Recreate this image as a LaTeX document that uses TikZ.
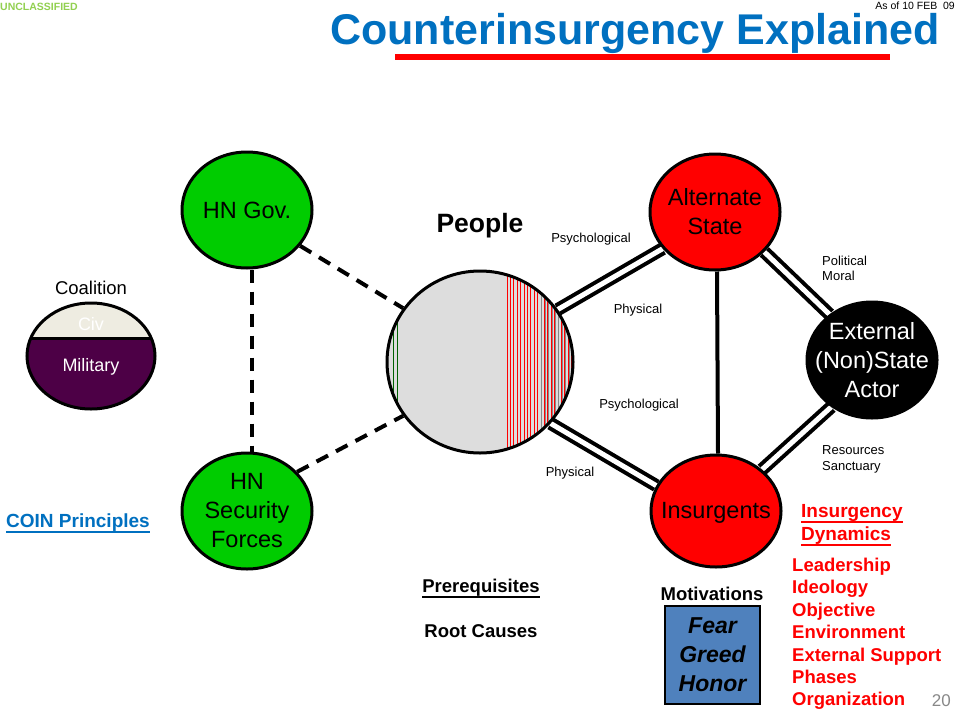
\documentclass[tikz,border=0pt]{standalone}
\usepackage{fontspec}
\setmainfont{Liberation Sans}
\usetikzlibrary{shapes.geometric}
\pgfdeclarelayer{paper}
\pgfdeclarelayer{bg}
\pgfsetlayers{paper,bg,main}

\definecolor{titleblue}{HTML}{0070C0}
\definecolor{hngreen}{HTML}{00CC00}
\definecolor{civcol}{HTML}{EEECE1}
\definecolor{milcol}{HTML}{4D0046}
\definecolor{peoplegray}{HTML}{DDDDDD}
\definecolor{stripegreen}{HTML}{006000}
\definecolor{boxblue}{HTML}{4F81BD}
\definecolor{classgreen}{HTML}{92D050}
\definecolor{pagegray}{HTML}{888888}

\newcommand\fs[2]{\fontsize{#1}{#2}\selectfont}
% underline with a heavier rule at a fixed depth
\newcommand\ulin[1]{\leavevmode\setbox0\hbox{#1}\rlap{\rule[-0.3em]{\wd0}{1.5pt}}\box0}

\begin{document}
\begin{tikzpicture}[x=1pt,y=-1pt,
  actor/.style={ellipse, draw=black, line width=3pt, minimum width=130pt,
    minimum height=116pt, inner sep=0pt},
  lbl/.style={align=center, font=\fs{23.5}{29}, inner sep=0pt},
  small/.style={font=\fs{13}{15}, inner sep=0pt},
  dashline/.style={dash pattern=on 13pt off 9pt, line width=4pt},
  dbl/.style={double=white, double distance=5pt, line width=4pt},
  solidline/.style={line width=4pt},
  boldtxt/.style={font=\bfseries\fs{18.5}{22}, inner sep=0pt},
  dynlist/.style={font=\bfseries\fs{18.5}{22}, text=red, inner sep=0pt, anchor=base west}
]
\useasboundingbox (0,0) rectangle (960,720);
\begin{pgfonlayer}{paper}
  \fill[white] (0,0) rectangle (960,720);
\end{pgfonlayer}

% header
\node[font=\bfseries\fs{10.5}{12}, text=classgreen, inner sep=0pt, anchor=base west] (classif) at (0,10) {UNCLASSIFIED};
\node[font=\fs{10.5}{12}, inner sep=0pt, anchor=base east, text depth=0pt] (datestamp) at (955,9.5) {As of 10 FEB \ 09};
\node[font=\bfseries\fs{43}{46}, text=titleblue, inner sep=0pt, anchor=base,
  text height=30pt, text depth=9pt] (title) at (635,44) {Counterinsurgency Explained};
\fill[red] (395,54) rectangle (890,59.5);

% the people, with the sympathetic fringes
\begin{scope}
  \clip (480,362) ellipse [x radius=93, y radius=91];
  \fill[peoplegray] (380,260) rectangle (580,460);
  \foreach \i in {0,...,19}
    \draw[red, line width=0.9pt] ({507+3.4*\i},260) -- ++(0,210);
  \foreach \i in {0,...,8}
    \draw[pagegray, line width=0.5pt] ({541.7+3.4*\i},260) -- ++(0,210);
  \draw[stripegreen, line width=0.9pt] (393,260) -- (393,470) (397,260) -- (397,470);
\end{scope}
\node[ellipse, draw, line width=3pt, minimum width=186pt, minimum height=182pt, inner sep=0pt] (people) at (480,362) {};
\node[font=\bfseries\fs{26.5}{30}, inner sep=0pt, anchor=base] (peoplelbl) at (480,232) {People};

% actors
\node[actor, fill=hngreen, label={[lbl]center:{HN Gov.}}] (hngov) at (247,210) {};
\node[actor, fill=hngreen, label={[lbl]center:{HN\\Security\\Forces}}] (hnsf) at (247,511) {};
\node[actor, fill=red, label={[lbl]center:{Alternate\\State}}] (alt) at (715,212) {};
\node[actor, fill=red, minimum height=112pt, label={[lbl, yshift=-2pt]center:{Insurgents}}] (ins) at (716,511) {};
\node[actor, fill=black, label={[lbl, text=white]center:{External\\(Non)State\\Actor}}] (ext) at (872,360) {};

% connectors
\begin{pgfonlayer}{bg}
  \draw[dashline] ([xshift=5pt]hngov.south) -- ([xshift=5pt]hnsf.north);
  \draw[dashline] (hngov.-34) -- (people.145);
  \draw[dashline] (hnsf.38) -- (people.215);
  \draw[dbl] (people.34) -- (alt.215);
  \draw[dbl] (people.-41) -- (ins.157);
  \draw[dbl] (alt.-39) -- (ext.133);
  \draw[dbl] (ins.42) -- (ext.229);
  \draw[solidline] ([xshift=2pt]alt.south) -- ([xshift=2pt]ins.north);
\end{pgfonlayer}

% connector labels
\node[small, anchor=base] (l1) at (591,242) {Psychological};
\node[small, anchor=base] (l2) at (638,313) {Physical};
\node[small, anchor=base] (l3) at (639,408) {Psychological};
\node[small, anchor=base] (l4) at (570,476) {Physical};
\node[small, anchor=base west] (l5) at (822,265) {Political};
\node[small, anchor=base west] (l6) at (822,280) {Moral};
\node[small, anchor=base west] (l7) at (822,454) {Resources};
\node[small, anchor=base west] (l8) at (822,470) {Sanctuary};

% coalition
\begin{scope}
  \clip (91,356) ellipse [x radius=64, y radius=53];
  \fill[civcol] (20,290) rectangle (160,338);
  \fill[milcol] (20,338) rectangle (160,420);
  \draw[line width=3pt] (20,338) -- (160,338);
\end{scope}
\node[ellipse, draw, line width=3pt, minimum width=128pt, minimum height=106pt, inner sep=0pt] (coal) at (91,356) {};
\node[font=\fs{18.5}{21}, inner sep=0pt, anchor=base] (coallbl) at (91,294) {Coalition};
\node[font=\fs{18}{21}, text=white, inner sep=0pt, anchor=base] (civ) at (91,330) {Civ};
\node[font=\fs{18}{21}, text=white, inner sep=0pt, anchor=base] (mil) at (91,371) {Military};

% side notes
\node[boldtxt, font=\bfseries\fs{19}{22}, text=titleblue, anchor=base west] (coin) at (6,527) {\ulin{COIN Principles}};
\node[boldtxt, anchor=base] (prereq) at (481,592) {\ulin{Prerequisites}};
\node[boldtxt, anchor=base] (roots) at (481,637) {Root Causes};

% motivations
\node[boldtxt, anchor=base] (motlbl) at (712,600) {Motivations};
\node[draw, fill=boxblue, line width=1.2pt, minimum width=95pt, minimum height=98pt,
  align=center, font=\bfseries\itshape\fs{23}{29}, inner sep=0pt] (motbox) at (712.5,655) {Fear\\Greed\\Honor};

% insurgency dynamics
\node[dynlist, font=\bfseries\fs{19}{22}] (dynh1) at (801,517) {\ulin{Insurgency}};
\node[dynlist, font=\bfseries\fs{19}{22}] (dynh2) at (801,540) {\ulin{Dynamics}};
\foreach \t [count=\k] in {Leadership, Ideology, Objective, Environment, External Support, Phases, Organization}
  \node[dynlist] (dyn\k) at (792,{565+6.5+22.4*(\k-1)}) {\t};

\node[font=\fs{17}{20}, text=pagegray, inner sep=0pt, anchor=base east] (pagenum) at (951,706) {20};
\end{tikzpicture}
\end{document}
